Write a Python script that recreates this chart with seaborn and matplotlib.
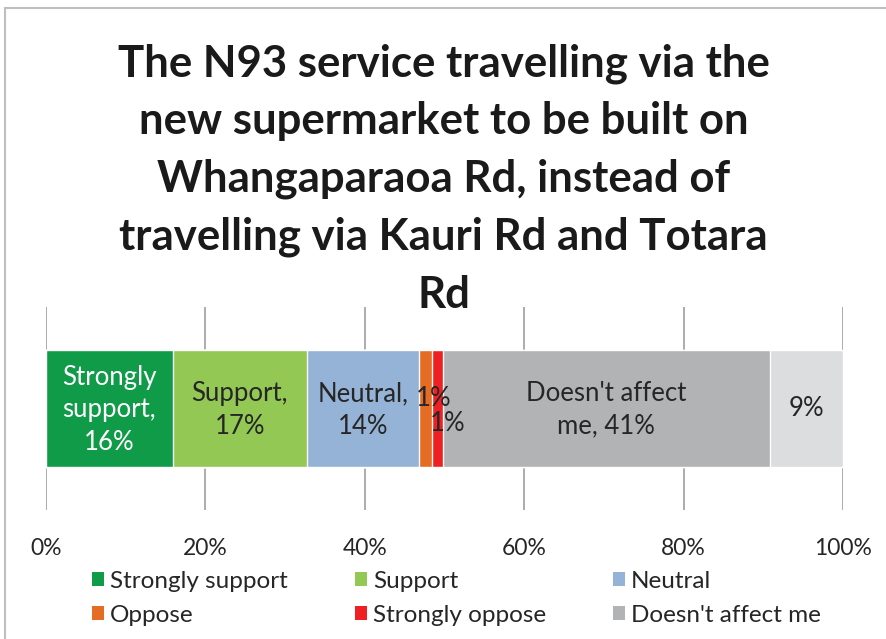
import matplotlib
matplotlib.use("Agg")
import matplotlib.pyplot as plt
from matplotlib.patches import Patch, Rectangle
import seaborn as sns
import numpy as np

# chart data
categories = ["Strongly support", "Support", "Neutral", "Oppose",
              "Strongly oppose", "Doesn't affect me", "Don't know"]
values = [15.9, 16.8, 14.1, 1.6, 1.4, 41.0, 9.2]
labels = ["Strongly\nsupport,\n16%", "Support,\n17%", "Neutral,\n14%", "1%",
          "1%", "Doesn't affect\nme, 41%", "9%"]
colors = ["#0F9B48", "#92C853", "#95B3D7", "#E46C24", "#EE2024", "#B2B3B5", "#DCDDDE"]
tick_values = [0, 20, 40, 60, 80, 100]
tick_labels = ["0%", "20%", "40%", "60%", "80%", "100%"]
title = ("The N93 service travelling via the\nnew supermarket to be built on\n"
         "Whangaparaoa Rd, instead of\ntravelling via Kauri Rd and Totara\nRd")

sns.set_style("white")
plt.rcParams["font.family"] = ["Lato", "DejaVu Sans"]

fig = plt.figure(figsize=(8.87, 6.39), dpi=100)
ax = fig.add_axes([46 / 887, 1 - 510 / 639, 797 / 887, 203 / 639])

cum_end = np.cumsum(values)
cum_start = cum_end - np.array(values)

# stacked bar: draw cumulative totals from the outside in
for i in reversed(range(len(values))):
    sns.barplot(x=[cum_end[i]], y=["q"], orient="h", color=colors[i],
                width=0.576, saturation=1, ax=ax, zorder=2)

# data labels
text_color = "#262626"
offsets = [(0, -1), (0, -1), (0, -1), (6, 7), (7.5, -11), (0, -1), (0, 0)]
for i, lab in enumerate(labels):
    c = "white" if i == 0 else text_color
    ax.annotate(lab, xy=(cum_start[i] + values[i] / 2, 0), xytext=offsets[i],
                textcoords="offset points", ha="center", va="center",
                fontsize=18.5, color=c, linespacing=1.38, zorder=5)

ax.set_xlim(0, 100)
ax.set_ylim(0.5, -0.5)
ax.set_xticks(tick_values)
ax.set_xticklabels(tick_labels, fontsize=16.5, color=text_color)
ax.set_yticks([])
ax.set_ylabel("")
ax.set_xlabel("")
ax.tick_params(axis="x", length=0, pad=20)
ax.grid(axis="x", color="#A6A6A6", linewidth=1.3, zorder=0)
ax.set_axisbelow(True)
for s in ax.spines.values():
    s.set_visible(False)

# title
fig.text(0.5, 1 - 179 / 639, title, ha="center", va="center", fontsize=31.5,
         fontweight="bold", color="#1a1a1a", linespacing=1.53)

# legend (row-wise order for 3 columns)
order = [0, 3, 1, 4, 2, 5]
handles = [Patch(facecolor=colors[i], edgecolor="none") for i in order]
names = [categories[i] for i in order]
leg = fig.legend(handles, names, ncol=3, loc="upper left",
                 bbox_to_anchor=(92 / 887, 1 - 571 / 639), frameon=False,
                 fontsize=17.5, handlelength=0.5, handleheight=0.5,
                 handletextpad=0.25, columnspacing=2.75, labelspacing=0.52,
                 borderpad=0, borderaxespad=0)
for t in leg.get_texts():
    t.set_color(text_color)

# chart border
fig.add_artist(Rectangle((5 / 887, -0.1), 1.2, 1 - 8 / 639 + 0.1,
                         transform=fig.transFigure, fill=False,
                         edgecolor="#BFBFBF", linewidth=1.5))

fig.savefig("out.png", dpi=100)
